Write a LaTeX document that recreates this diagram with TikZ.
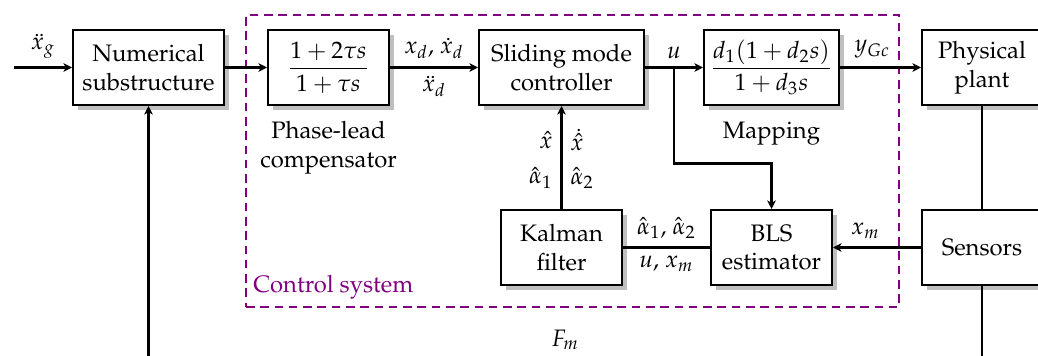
\documentclass[tikz,border=0pt]{standalone}
\usepackage[T1]{fontenc}
\usepackage{amsmath}
\usepackage{mathpazo}
\usetikzlibrary{arrows.meta,shadows,calc}
\definecolor{ctrlpurple}{RGB}{128,0,128}
\begin{document}
\begin{tikzpicture}[x=0.42pt,y=-0.42pt,
  blk/.style={draw, line width=0.85pt, fill=white, align=center, minimum height=31.5pt, inner sep=2pt,
    drop shadow={shadow xshift=2.1pt, shadow yshift=-2.1pt, fill=black!25, opacity=1}},
  arr/.style={line width=0.85pt, -{Stealth[length=3.6pt,width=3.6pt,inset=1pt]}},
  ln/.style={line width=0.85pt},
  ctrlbox/.style={draw=ctrlpurple, line width=0.85pt, dash pattern=on 3.6pt off 2.4pt, inner sep=0pt}
]
\useasboundingbox (0,0) rectangle (1038,356);

% control system frame
\node[ctrlbox, minimum width=274.3pt, minimum height=122.6pt] (ctrl) at (572.5,161) {};
\node[anchor=south west, text=ctrlpurple] (ctrllbl) at (ctrl.south west) {Control system};

% blocks
\node[blk, minimum width=63.4pt] (num) at (148.5,67.5) {Numerical\\substructure};
\node[blk, minimum width=50.8pt] (lead) at (328.5,67.5) {$\dfrac{1+2\tau s}{1+\tau s}$};
\node[blk, minimum width=69.3pt] (smc) at (561.5,67.5) {Sliding mode\\controller};
\node[blk, minimum width=56.7pt] (map) at (771.5,67.5) {$\dfrac{d_1(1+d_2 s)}{1+d_3 s}$};
\node[blk, minimum width=50.4pt] (plant) at (982,67.5) {Physical\\plant};
\node[blk, minimum width=50.8pt] (kal) at (561.5,247.5) {Kalman\\filter};
\node[blk, minimum width=50.8pt] (bls) at (771.5,247.5) {BLS\\estimator};
\node[blk, minimum width=50.4pt] (sens) at (982,247.5) {Sensors};

% captions
\node[anchor=north, align=center] (leadcap) at ([yshift=-3pt]lead.south) {Phase-lead\\compensator};
\node[anchor=north, align=center] (mapcap) at ([yshift=-3pt]map.south) {Mapping};

% coordinates
\coordinate (in) at (14,67.5);
\coordinate (ubr) at ($(smc.east)!0.5!(map.west)$);
\coordinate (c1) at (982,359);
\coordinate (c2) at (148.5,359);

% connectors
\draw[arr] (in) -- node[above] {$\ddot{x}_g$} (num);
\draw[arr] (num) -- (lead);
\draw[arr] (lead) -- node[above] {$x_d$, $\dot{x}_d$} node[below] {$\ddot{x}_d$} (smc);
\draw[arr] (smc) -- node[above] {$u$} (map);
\draw[arr] (ubr) -- ++(0,96) -| (bls.north);
\draw[arr] (map) -- node[above, pos=0.4] {$y_{Gc}$} (plant);
\draw[ln] (plant) -- (sens);
\draw[arr] (sens) -- node[above, pos=0.63] {$x_m$} (bls);
\draw[ln] (bls) -- node[above] {$\hat\alpha_1$, $\hat\alpha_2$} node[below] {$u$, $x_m$} (kal);
\draw[arr] (kal) -- node[left, pos=0.3] {$\hat\alpha_1$} node[right, pos=0.3] {$\hat\alpha_2$}
                    node[left, pos=0.67] {$\hat x$} node[right, pos=0.67] {$\dot{\hat x}$} (smc);
\draw[arr] (sens.south) -- (c1) -- node[above] {$F_m$} (c2) -- (num.south);
\end{tikzpicture}
\end{document}
